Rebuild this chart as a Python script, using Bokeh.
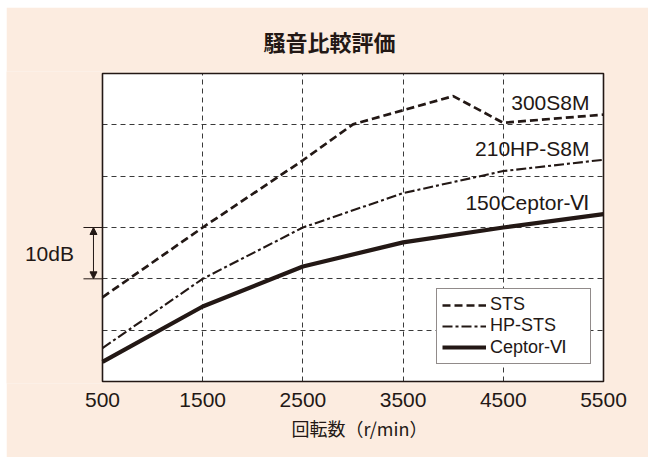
from bokeh.plotting import figure
from bokeh.models import Range1d, Legend, LegendItem, Label, Arrow, NormalHead, FixedTicker, Spacer, Title
from bokeh.layouts import row, column
from bokeh.embed import file_html
from bokeh.resources import INLINE

# ---- data ----
title_text = "騒音比較評価"
x_label = "回転数（r/min）"
x_ticks = [500, 1500, 2500, 3500, 4500, 5500]
y_grid = [10, 20, 30, 40, 50]
y_min, y_max = 0, 60

rpm_sts = [500, 1500, 2500, 3000, 4000, 4500, 5500]
db_sts = [16.4, 30.0, 43.1, 50.1, 55.6, 50.4, 52.0]
rpm = [500, 1500, 2500, 3500, 4500, 5500]
db_hpsts = [6.5, 20.0, 30.0, 36.7, 41.0, 43.2]
db_ceptor = [3.8, 14.6, 22.4, 27.1, 30.0, 32.6]

series_names = ["STS", "HP-STS", "Ceptor-Ⅵ"]
model_labels = ["300S8M", "210HP-S8M", "150Ceptor-Ⅵ"]
model_label_y = [54.4, 45.4, 34.8]
scale_low, scale_high = 20, 30
scale_text = "10dB"

# ---- style ----
ink = "#231815"
beige = "#fcece0"
latin = "Liberation Sans"
cjk = "Noto Sans CJK JP"

x_lo, x_hi = x_ticks[0], x_ticks[-1]

# frame covers the whole beige panel width; the white plot box is drawn inside it
p = figure(width=642, height=450,
           x_range=Range1d(-458, 5520), y_range=Range1d(-0.4, 60.4),
           output_backend="svg", toolbar_location=None, y_axis_location=None,
           min_border_left=0, min_border_right=43,
           min_border_top=64, min_border_bottom=74)

p.background_fill_color = beige
p.border_fill_color = beige
p.outline_line_color = None

p.title.text = title_text
p.title.align = "left"
p.title.offset = 257
p.title.text_font = cjk
p.title.text_font_size = "22px"
p.title.text_font_style = "bold"
p.title.text_color = ink
p.title.standoff = 30

ax = p.xaxis[0]
ax.ticker = FixedTicker(ticks=x_ticks)
ax.axis_line_color = None
ax.major_tick_line_color = None
ax.minor_tick_line_color = None
ax.major_label_text_font = latin
ax.major_label_text_font_size = "21px"
ax.major_label_text_color = ink
ax.major_label_standoff = 3

p.add_layout(Title(text=x_label, align="left", offset=285, text_font=cjk,
                   text_font_size="18px", text_font_style="normal", text_color=ink,
                   standoff=6), "below")

# white plot box (under the grid)
p.quad(left=[x_lo], right=[x_hi], bottom=[y_min], top=[y_max],
       fill_color="white", line_color=None, level="image")

p.xgrid.ticker = FixedTicker(ticks=x_ticks[1:-1])
p.xgrid.cross_bounds = (y_min, y_max)
p.ygrid.ticker = FixedTicker(ticks=y_grid)
p.ygrid.cross_bounds = (x_lo, x_hi)
for g in (p.xgrid[0], p.ygrid[0]):
    g.grid_line_color = "#3a3a3a"
    g.grid_line_dash = "5 4"
    g.grid_line_width = 1

# box border
p.quad(left=[x_lo], right=[x_hi], bottom=[y_min], top=[y_max],
       fill_color=None, line_color=ink, line_width=1.6)

r1 = p.line(rpm_sts, db_sts, line_color=ink, line_width=2.7, line_dash="8 4")
r2 = p.line(rpm, db_hpsts, line_color=ink, line_width=2.1, line_dash="10 3 3 3")
r3 = p.line(rpm, db_ceptor, line_color=ink, line_width=4.2)

legend = Legend(items=[LegendItem(label=n, renderers=[r]) for n, r in zip(series_names, [r1, r2, r3])],
                location=(430, 19))
legend.border_line_color = ink
legend.border_line_width = 1
legend.background_fill_color = "white"
legend.background_fill_alpha = 1
legend.label_text_font = latin
legend.label_text_font_size = "18px"
legend.label_text_color = ink
legend.glyph_width = 44
legend.glyph_height = 18
legend.label_height = 18
legend.label_width = 95
legend.label_standoff = 4
legend.padding = 5
legend.spacing = 0
legend.margin = 0
p.add_layout(legend, "center")

for txt, yy in zip(model_labels, model_label_y):
    p.add_layout(Label(x=5360, y=yy, text=txt, text_align="right", text_baseline="middle",
                       text_font=latin, text_font_size="21px", text_color=ink))

# 10 dB scale marker left of the box
p.segment(x0=[310, 310], y0=[scale_low, scale_high], x1=[x_lo, x_lo], y1=[scale_low, scale_high],
          line_color=ink, line_width=1)
p.add_layout(Arrow(x_start=410, y_start=scale_low, x_end=410, y_end=scale_high,
                   start=NormalHead(size=7, fill_color=ink, line_color=ink),
                   end=NormalHead(size=7, fill_color=ink, line_color=ink),
                   line_color=ink, line_width=1))
p.add_layout(Label(x=215, y=(scale_low + scale_high) / 2, text=scale_text,
                   text_align="right", text_baseline="middle",
                   text_font=latin, text_font_size="21px", text_color=ink))

layout = column(Spacer(height=7), row(Spacer(width=6), p))
open("out.html", "w").write(file_html(layout, INLINE))
